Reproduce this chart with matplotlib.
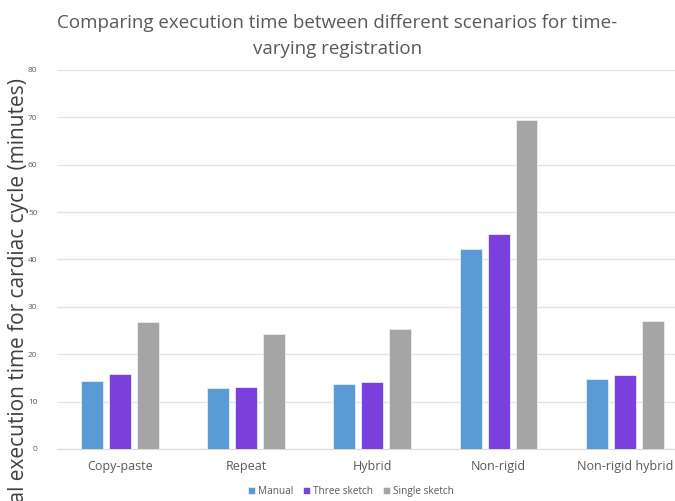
import matplotlib
matplotlib.use("Agg")
import matplotlib.pyplot as plt
import numpy as np

categories = ["Copy-paste", "Repeat", "Hybrid", "Non-rigid", "Non-rigid hybrid"]
manual = [14.3, 12.9, 13.7, 42.2, 14.7]
three_sketch = [15.8, 13.1, 14.1, 45.4, 15.6]
single_sketch = [26.8, 24.3, 25.3, 69.5, 27.0]
series_names = ["Manual", "Three sketch", "Single sketch"]
colors = ["#5B9BD5", "#7B3FDD", "#A5A5A5"]
y_ticks = [0, 10, 20, 30, 40, 50, 60, 70, 80]

plt.rcParams["font.family"] = ["Open Sans", "DejaVu Sans"]
text_color = "#595959"

fig = plt.figure(figsize=(6.75, 5.01), dpi=100)
ax = fig.add_axes([0.0844, 0.1038, 0.9346, 0.7565])

x = np.arange(len(categories))
pitch = 0.2215
width = 0.174
for i, (vals, name, c) in enumerate(zip([manual, three_sketch, single_sketch], series_names, colors)):
    ax.bar(x + (i - 1) * pitch, vals, width, color=c, label=name,
           edgecolor="#E8EEF6", linewidth=0.6, zorder=3)

ax.set_xlim(-0.5, len(categories) - 0.5)
ax.set_ylim(0, 80)
ax.set_yticks(y_ticks)
ax.set_yticklabels([str(t) for t in y_ticks], fontsize=6, color=text_color)
ax.set_xticks(x)
ax.set_xticklabels(categories, fontsize=9, color=text_color)
ax.tick_params(axis="both", length=0, pad=8)
ax.tick_params(axis="y", pad=14)
ax.grid(axis="y", color="#E3E3E3", linewidth=0.9, zorder=0)
for s in ["top", "right", "left"]:
    ax.spines[s].set_visible(False)
ax.spines["bottom"].set_color("#DADADA")

fig.text(0.5, 0.972, "Comparing execution time between different scenarios for time-\nvarying registration",
         ha="center", va="top", fontsize=13.5, color=text_color, linespacing=1.6)
fig.text(0.027, 0.39, "Total execution time for cardiac cycle (minutes)", rotation=90,
         ha="center", va="center", fontsize=15, color="#404040")

fig.legend(loc="center", bbox_to_anchor=(0.52, 0.018), ncol=3, frameon=False,
           fontsize=7.2, handlelength=0.7, handleheight=0.7, handletextpad=0.3,
           columnspacing=1.0, labelcolor=text_color)

fig.savefig("out.png", dpi=100)
